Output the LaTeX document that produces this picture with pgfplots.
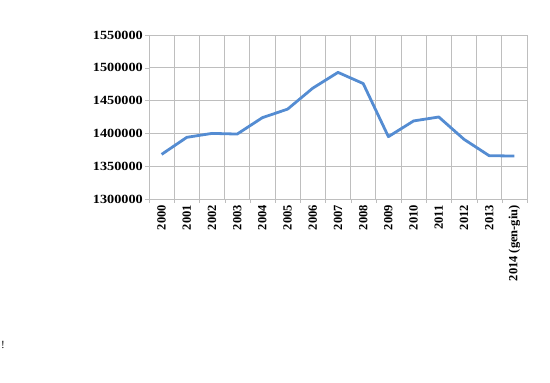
\documentclass[border=0pt]{standalone}
\usepackage{fontspec}
\setmainfont{Liberation Serif}
\newfontfamily\wideserif[FakeStretch=1.14]{Liberation Serif}
\usepackage{pgfplots}
\pgfplotsset{compat=1.18}
\definecolor{xlblue}{RGB}{84,140,210}
\definecolor{gridgray}{RGB}{190,190,190}
\begin{document}
\begin{tikzpicture}[x=1pt,y=1pt]
\path[use as bounding box] (0,0) rectangle (550,383);
\begin{axis}[
  at={(149pt,184pt)}, anchor=south west,
  scale only axis, width=378pt, height=164pt,
  xmin=-0.5, xmax=14.5, ymin=1300000, ymax=1550000,
  ytick={1300000,1350000,1400000,1450000,1500000,1550000},
  scaled y ticks=false,
  yticklabel style={font=\wideserif\bfseries\fontsize{12.5}{14}\selectfont, /pgf/number format/fixed, /pgf/number format/1000 sep={}, /pgf/number format/assume math mode=true, inner sep=2pt},
  xtick={0,...,14},
  xticklabels={2000,2001,2002,2003,2004,2005,2006,2007,2008,2009,2010,2011,2012,2013,2014 (gen-giu)},
  xticklabel style={font=\bfseries\fontsize{12.5}{14}\selectfont, rotate=90, anchor=east, inner sep=2pt},
  major x tick style={draw=none},
  minor xtick={-0.5,0.5,...,14.5},
  minor x tick style={gridgray},
  minor tick length=4pt,
  major tick length=4pt,
  tick align=outside,
  x grid style={gridgray}, y grid style={gridgray},
  minor x grid style={gridgray, line width=0.8pt},
  major grid style={gridgray, line width=0.8pt},
  xminorgrids=true, ymajorgrids=true,
  axis line style={gridgray, line width=0.8pt},
  y tick style={gridgray},
  axis x line*=bottom, axis y line*=left,
  clip=false,
]
\addplot[xlblue, line width=2.8pt, line join=round] coordinates {
(0,1368000) (1,1394000) (2,1400000) (3,1399000) (4,1424000)
(5,1437000) (6,1469000) (7,1493000) (8,1476000) (9,1395000)
(10,1419000) (11,1425000) (12,1391000) (13,1366000) (14,1365500)
};
\end{axis}
\node[anchor=west, inner sep=0pt, font=\fontsize{11}{12}\selectfont] at (1,38) {!};
\end{tikzpicture}
\end{document}
